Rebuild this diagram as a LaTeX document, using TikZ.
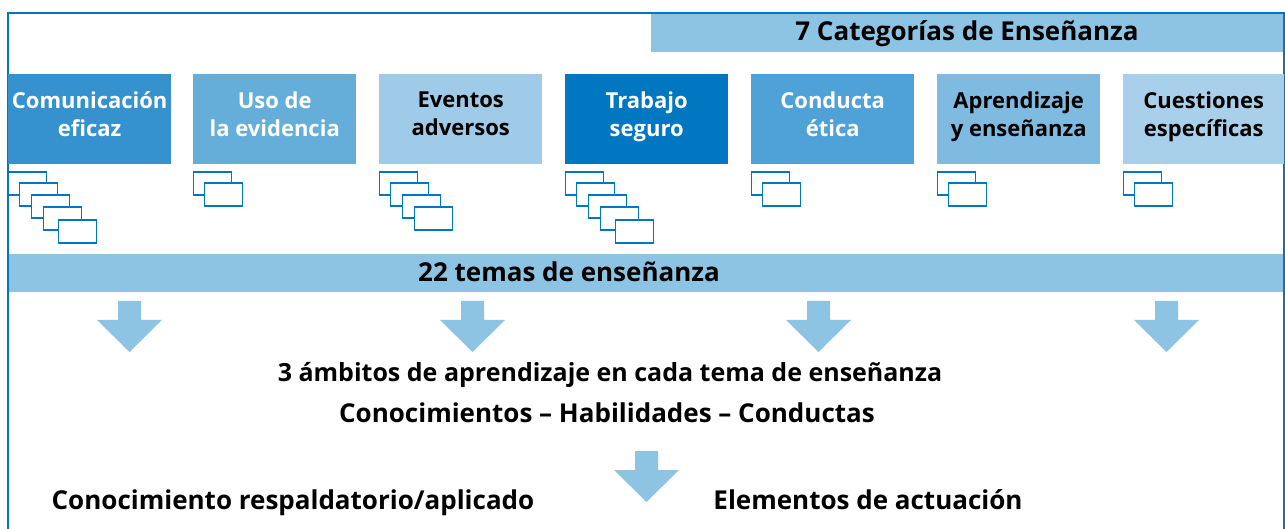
\documentclass[tikz,border=0pt]{standalone}
\usepackage{fontspec}
\setmainfont{Open Sans}
\usetikzlibrary{positioning}

\definecolor{frameblue}{RGB}{0,119,192}
\definecolor{bandblue}{RGB}{141,195,227}
\definecolor{catA}{RGB}{53,146,206}
\definecolor{catB}{RGB}{102,174,218}
\definecolor{catC}{RGB}{160,203,232}
\definecolor{catD}{RGB}{0,119,192}
\definecolor{catE}{RGB}{79,162,216}
\definecolor{catF}{RGB}{127,187,224}
\definecolor{catG}{RGB}{168,208,234}

\tikzset{
  catbox/.style={minimum width=163pt, minimum height=90pt, inner sep=0pt, anchor=north west},
  cattext/.style={align=center, inner sep=0pt, font=\bfseries\fontsize{22}{28}\selectfont,
    execute at begin node=\strut, execute at end node=\strut},
  stackbox/.style={draw=frameblue, fill=white, line width=1.5pt},
  bigtext/.style={font=\bfseries\fontsize{26}{30}\selectfont, inner sep=0pt},
  downarrow/.pic={
    \fill[bandblue] (-11.5,0) -- (11.5,0) -- (11.5,19) -- (32.5,19)
      -- (0,51) -- (-32.5,19) -- (-11.5,19) -- cycle;
  }
}

\begin{document}
\begin{tikzpicture}[x=1pt,y=-1pt]
        \useasboundingbox (0,0) rectangle (1285,529);
        %% Frame and bands
        \fill[bandblue] (651,13) rectangle (1284,52);
        \fill[bandblue] (8,254) rectangle (1284,292);
        \draw[frameblue, line width=1.7pt] (8,535) -- (8,13) -- (1284,13) -- (1284,535);
        \node[bigtext] (titulo) at (967,34) {7 Categorías de Enseñanza};
        \node[bigtext] (temas) at (569,272) {22 temas de enseñanza};
        %% Categories
        \node[catbox, fill=catA] (comunicacion) at (8,74) {};
            \node[cattext, text=white] at ([yshift=1pt]comunicacion.center) {Comunicación\\eficaz};
        \node[catbox, fill=catB] (evidencia) at (193,74) {};
            \node[cattext, text=white] at ([yshift=1pt]evidencia.center) {Uso de\\la evidencia};
        \node[catbox, fill=catC] (eventos) at (379,74) {};
            \node[cattext] at ([yshift=1pt]eventos.center) {Eventos\\adversos};
        \node[catbox, fill=catD] (trabajo) at (565,74) {};
            \node[cattext, text=white] at ([yshift=1pt]trabajo.center) {Trabajo\\seguro};
        \node[catbox, fill=catE] (conducta) at (751,74) {};
            \node[cattext, text=white] at ([yshift=1pt]conducta.center) {Conducta\\ética};
        \node[catbox, fill=catF] (aprendizaje) at (937,74) {};
            \node[cattext] at ([yshift=1pt]aprendizaje.center) {Aprendizaje\\y enseñanza};
        \node[catbox, fill=catG, minimum width=161pt] (cuestiones) at (1123,74) {};
            \node[cattext] at ([yshift=1pt]cuestiones.center) {Cuestiones\\específicas};
        %% Topics under each category
        \foreach \bx/\n in {8/5, 193/2, 379/4, 565/5, 751/2, 937/2, 1123/2} {
            \foreach \dx/\dy [count=\i] in {0/0, 11/11, 23/23, 35/35, 50/48} {
                \ifnum\i>\n\else
                    \draw[stackbox] (\bx+\dx+0.5,172+\dy) rectangle ++(38,23);
                \fi
            }
        }
        %% Arrows
        \pic at (129.5,301) {downarrow};
        \pic at (472.5,301) {downarrow};
        \pic at (818.5,301) {downarrow};
        \pic at (1166.5,301) {downarrow};
        \pic at (646.5,451) {downarrow};
        %% Domains
        \node[bigtext, font=\bfseries\fontsize{25}{30}\selectfont] (ambitos) at (610,375) {3 ámbitos de aprendizaje en cada tema de enseñanza};
        \node[bigtext] (dominios) at (607,413) {Conocimientos – Habilidades – Conductas};
        \node[bigtext] (respaldo) at (293,503) {Conocimiento respaldatorio/aplicado};
        \node[bigtext] (actuacion) at (868,500) {Elementos de actuación};
    \end{tikzpicture}
\end{document}
